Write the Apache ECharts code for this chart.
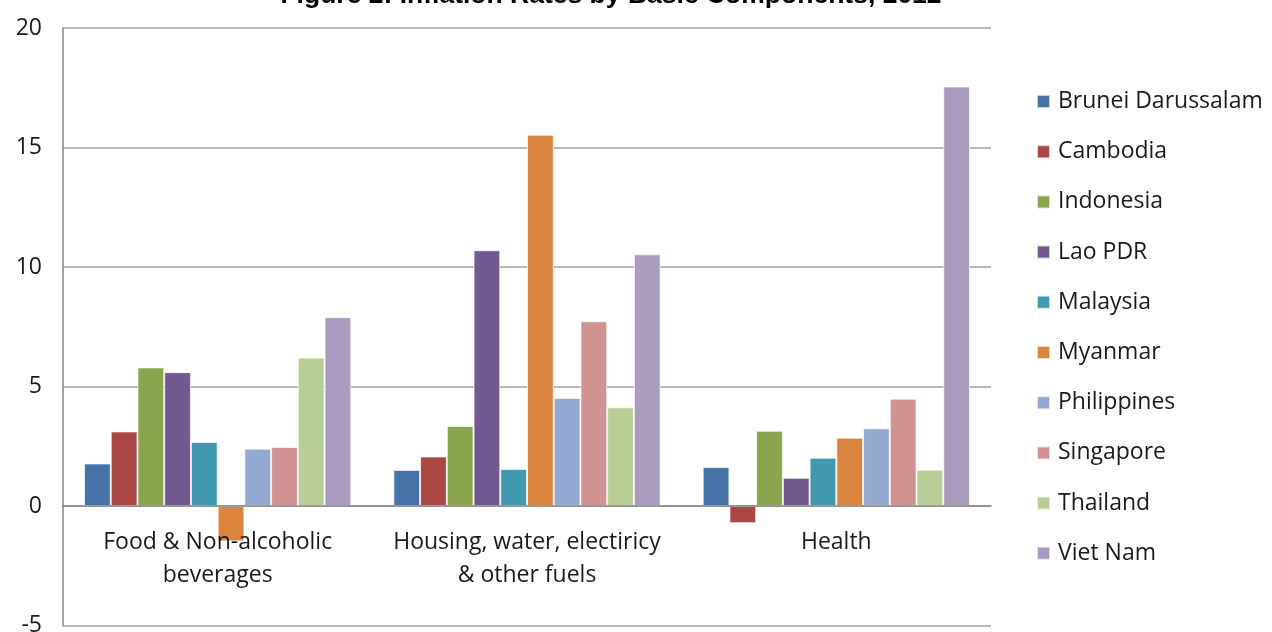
<!DOCTYPE html>
<html>
<head>
<meta charset="utf-8">
<script src="https://cdn.jsdelivr.net/npm/echarts@6/dist/echarts.min.js"></script>
<style>
  html, body { margin: 0; padding: 0; background: #fff; }
  #chart { width: 1272px; height: 632px; }
</style>
</head>
<body>
<div id="chart"></div>
<script>
// data
let categories = ['Food & Non-alcoholic\nbeverages', 'Housing, water, electiricy\n& other fuels', 'Health']
let countries = ['Brunei Darussalam', 'Cambodia', 'Indonesia', 'Lao PDR', 'Malaysia', 'Myanmar', 'Philippines', 'Singapore', 'Thailand', 'Viet Nam']
let brunei = [1.78, 1.51, 1.63]
let cambodia = [3.12, 2.07, -0.72]
let indonesia = [5.8, 3.35, 3.15]
let lao = [5.6, 10.7, 1.18]
let malaysia = [2.68, 1.55, 2.02]
let myanmar = [-1.48, 15.53, 2.86]
let philippines = [2.4, 4.52, 3.25]
let singapore = [2.47, 7.73, 4.49]
let thailand = [6.21, 4.13, 1.52]
let vietnam = [7.9, 10.53, 17.55]
let yTicks = [-5, 0, 5, 10, 15, 20]

let values = [brunei, cambodia, indonesia, lao, malaysia, myanmar, philippines, singapore, thailand, vietnam]
let colorList = ['#4572A7', '#AA4643', '#89A54E', '#71588F', '#4198AF', '#DB843D', '#93A9CF', '#D19392', '#B9CD96', '#A99BBD']
let font = '"Open Sans", "Noto Sans", sans-serif'

// plot box in pixels, the x axis is moved up from the bottom to the zero line
let plotTop = 28
let plotBottom = 6.5
let plotHeight = 632 - plotTop - plotBottom
let yMin = yTicks[0]
let yMax = yTicks[yTicks.length - 1]
let zeroOffset = plotHeight * (0 - yMin) / (yMax - yMin)

let series = []
for (let i = 0; i < countries.length; i++) {
  series.push({
    name: countries[i],
    type: 'bar',
    barGap: '0%',
    barCategoryGap: '13.6%',
    itemStyle: {
      borderColor: 'rgba(255,255,255,0.7)',
      borderWidth: 1
    },
    data: values[i]
  })
}

let chart = echarts.init(document.getElementById('chart'))
chart.setOption({
  animation: false,
  color: colorList,
  title: {
    text: 'Figure 2: Inflation Rates by Basic Components, 2012',
    left: 606,
    textAlign: 'center',
    top: -23,
    textStyle: {
      fontFamily: 'Arial, "Liberation Sans", sans-serif',
      fontWeight: 'bold',
      fontSize: 26.5,
      color: '#000'
    }
  },
  grid: {
    left: 63,
    right: 281,
    top: plotTop,
    bottom: plotBottom,
    containLabel: false,
    outerBoundsMode: 'none'
  },
  legend: {
    orient: 'vertical',
    left: 1036,
    top: 90,
    padding: 0,
    icon: 'rect',
    itemWidth: 13,
    itemHeight: 13,
    itemGap: 27.2,
    data: countries,
    textStyle: {
      fontFamily: font,
      fontSize: 23,
      lineHeight: 22,
      color: '#1a1a1a',
      padding: [0, 0, 0, 3]
    }
  },
  xAxis: {
    type: 'category',
    data: categories,
    position: 'bottom',
    offset: -zeroOffset,
    z: 5,
    axisLine: {
      onZero: false,
      lineStyle: { color: '#868686', width: 1.5 }
    },
    axisTick: { show: false },
    axisLabel: {
      interval: 0,
      margin: 20,
      fontFamily: font,
      fontSize: 23,
      lineHeight: 33,
      color: '#1a1a1a'
    },
    splitLine: { show: false }
  },
  yAxis: {
    type: 'value',
    min: yMin,
    max: yMax,
    interval: 5,
    axisLine: {
      show: true,
      lineStyle: { color: '#868686', width: 1.5 }
    },
    axisTick: { show: false },
    axisLabel: {
      margin: 21,
      fontFamily: font,
      fontSize: 23,
      color: '#1a1a1a'
    },
    // 网格线
    splitLine: {
      show: true,
      lineStyle: { color: '#a0a0a0', width: 1.5 }
    }
  },
  series: series
})
</script>
</body>
</html>
